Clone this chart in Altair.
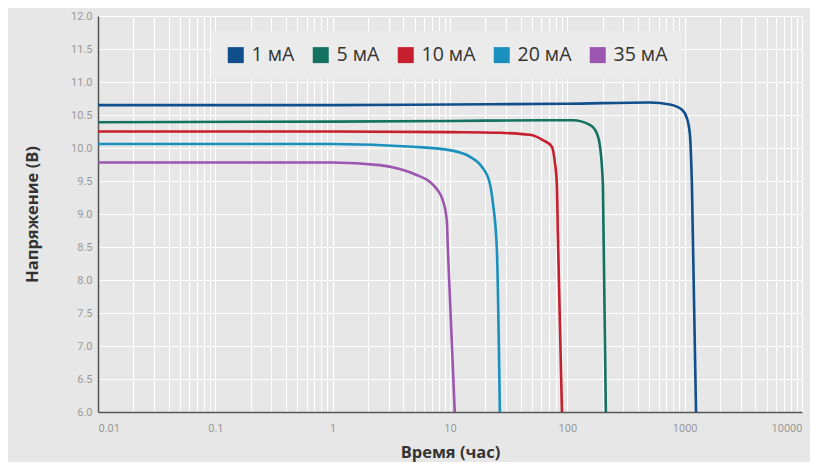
import altair as alt
import pandas as pd

# ---- data ----
series_names = ["1 мА", "5 мА", "10 мА", "20 мА", "35 мА"]
series_colors = ["#114e8c", "#137260", "#c61f2e", "#1a90be", "#9b56b0"]

t_1mA = [0.01, 1, 10, 100, 506, 748, 948, 1045, 1109, 1153, 1250]
v_1mA = [10.65, 10.65, 10.66, 10.67, 10.69, 10.66, 10.58, 10.45, 10.2, 9.44, 6.0]

t_5mA = [0.01, 1, 10, 60, 111, 155.6, 178.6, 189, 201, 213]
v_5mA = [10.39, 10.40, 10.41, 10.42, 10.42, 10.35, 10.22, 10.05, 9.44, 6.0]

t_10mA = [0.01, 1, 10, 26.6, 47.9, 61.7, 73.8, 78.2, 81.3, 83, 90]
v_10mA = [10.25, 10.25, 10.24, 10.23, 10.20, 10.12, 10.02, 9.79, 9.47, 8.71, 6.0]

t_20mA = [0.01, 1, 4.81, 10.5, 14.7, 18.6, 21.8, 23.2, 25.1, 26.6]
v_20mA = [10.06, 10.06, 10.02, 9.96, 9.87, 9.72, 9.47, 9.17, 8.45, 6.0]

t_35mA = [0.01, 1, 2.52, 3.73, 5.2, 6.71, 7.85, 8.67, 9.38, 9.6, 10.97]
v_35mA = [9.78, 9.78, 9.74, 9.68, 9.59, 9.49, 9.36, 9.21, 8.91, 8.45, 6.0]

x_label_values = [0.01, 0.1, 1, 10, 100, 1000, 10000]
y_tick_values = [6.0, 6.5, 7.0, 7.5, 8.0, 8.5, 9.0, 9.5, 10.0, 10.5, 11.0, 11.5, 12.0]

# grid positions on the log axis (1..9 within each decade)
x_grid_values = [m * d for d in x_label_values[:-1] for m in range(1, 10)] + [x_label_values[-1]]

rows = []
for name, ts, vs in zip(series_names,
                        [t_1mA, t_5mA, t_10mA, t_20mA, t_35mA],
                        [v_1mA, v_5mA, v_10mA, v_20mA, v_35mA]):
    for i, (t, v) in enumerate(zip(ts, vs)):
        rows.append({"series": name, "t": t, "v": v, "order": i})
df = pd.DataFrame(rows)

label_list = "[" + ",".join(repr(v) for v in x_label_values) + "]"

x_enc = alt.X("t:Q",
              scale=alt.Scale(type="log", domain=[0.01, 10000], nice=False),
              axis=alt.Axis(title="Время (час)", values=x_grid_values, format="~g",
                            labelExpr=f"indexof({label_list}, datum.value) >= 0 ? datum.label : ''",
                            labelOverlap=False, labelPadding=10, titlePadding=11))
y_enc = alt.Y("v:Q",
              scale=alt.Scale(domain=[6, 12], nice=False, zero=False),
              axis=alt.Axis(title="Напряжение (В)", values=y_tick_values, format=".1f",
                            labelPadding=6, titlePadding=30))
color_scale = alt.Scale(domain=series_names, range=series_colors)

base = alt.Chart(df)

# empty square layer that only provides filled-square legend symbols
legend_layer = base.transform_filter("datum.v < 0").mark_square(filled=True, opacity=1).encode(
    x=x_enc, y=y_enc,
    color=alt.Color("series:N", scale=color_scale,
                    legend=alt.Legend(title=None, orient="none", direction="horizontal",
                                      legendX=114, legendY=15,
                                      symbolType="square", symbolSize=256,
                                      symbolStrokeWidth=0, symbolOpacity=1,
                                      labelFont="Open Sans", labelFontSize=19.5,
                                      labelColor="#333333", labelOffset=6,
                                      columnPadding=16, padding=14,
                                      fillColor="#ebebeb")),
)

lines = base.mark_line(strokeWidth=2.6, interpolate="monotone").encode(
    x=x_enc, y=y_enc,
    color=alt.Color("series:N", scale=color_scale, legend=None),
    order="order:Q",
)

chart = alt.layer(legend_layer, lines).properties(
    width=704,
    height=396,
    autosize=alt.AutoSizeParams(type="none"),
    padding={"left": 90, "top": 8, "right": 8, "bottom": 50},
    background="#e7e7e7",
).configure_view(
    stroke=None, fill="#e7e7e7"
).configure_axis(
    grid=True, gridColor="#ffffff", gridWidth=1, gridOpacity=1,
    ticks=False,
    domainColor="#555555", domainWidth=1.5,
    labelFont="Roboto", labelFontSize=11, labelColor="#9a9a9a",
    titleFont="Open Sans", titleFontSize=16.5, titleFontWeight="bold", titleColor="#333333",
)

chart.save("out.html", embed_options={"renderer": "svg", "actions": False})
